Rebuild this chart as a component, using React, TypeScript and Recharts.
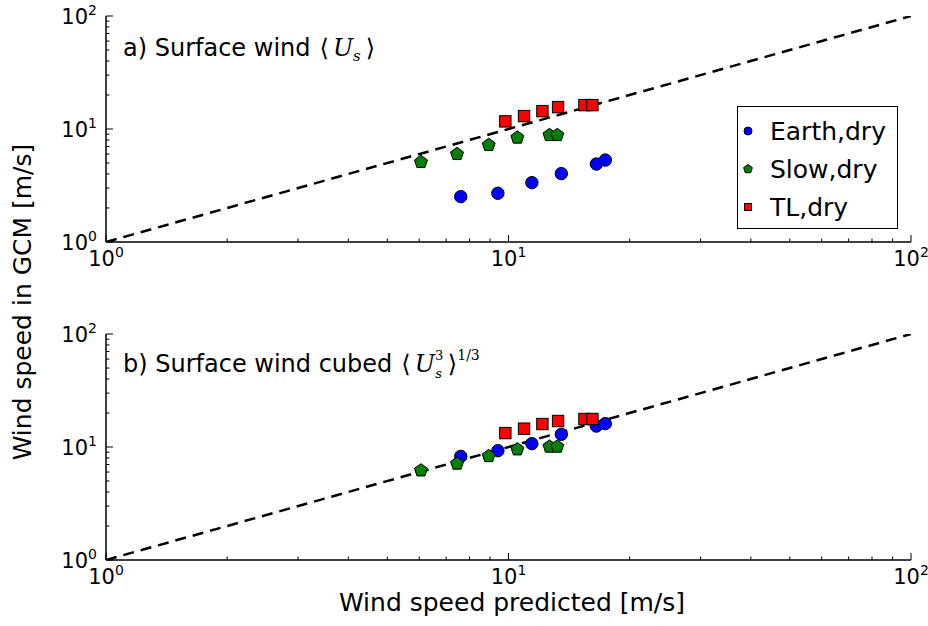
import React from 'react';
import { ScatterChart, Scatter, XAxis, YAxis, Legend } from 'recharts';

const FONT = '"DejaVu Sans", sans-serif';
const SERIF = '"DejaVu Serif", serif';

// predicted wind speed [m/s]
const predEarth = [7.61, 9.41, 11.43, 13.53, 16.53, 17.4];
const predSlow = [6.06, 7.45, 8.93, 10.52, 12.64, 13.22];
const predTL = [9.82, 10.93, 12.14, 13.28, 15.44, 16.16];

// GCM surface wind <U_s>
const surfEarth = [2.52, 2.7, 3.35, 4.03, 4.9, 5.31];
const surfSlow = [5.1, 6.0, 7.21, 8.38, 8.83, 8.83];
const surfTL = [11.68, 13.0, 14.39, 15.62, 16.27, 16.27];

// GCM surface wind cubed <U_s^3>^(1/3)
const cubedEarth = [8.26, 9.27, 10.7, 12.94, 15.32, 16.1];
const cubedSlow = [6.2, 7.11, 8.3, 9.52, 10.06, 10.06];
const cubedTL = [13.28, 14.53, 15.97, 16.98, 17.69, 17.69];

const seriesNames = ['Earth,dry', 'Slow,dry', 'TL,dry'];
const logTicks = [1, 2, 3, 4, 5, 6, 7, 8, 9, 10, 20, 30, 40, 50, 60, 70, 80, 90, 100];
const majorTicks = [1, 10, 100];
const oneToOne = [
  { x: 1, y: 1 },
  { x: 100, y: 100 },
];

const pair = (xs: number[], ys: number[]) => xs.map((x, i) => ({ x, y: ys[i] }));

const isMajor = (v: number) => majorTicks.includes(v);
const expOf = (v: number) => String(Math.round(Math.log10(v)));

const pentPoints = (cx: number, cy: number, r: number) =>
  [0, 1, 2, 3, 4]
    .map((k) => {
      const a = (-90 + k * 72) * (Math.PI / 180);
      return `${cx + r * Math.cos(a)},${cy + r * Math.sin(a)}`;
    })
    .join(' ');

const CircleMark = (p: any) => <circle cx={p.cx} cy={p.cy} r={6.2} fill="#0000ff" stroke="#000" strokeWidth={1} />;
const PentMark = (p: any) => <polygon points={pentPoints(p.cx, p.cy, 6.8)} fill="#007f00" stroke="#000" strokeWidth={1} />;
const SquareMark = (p: any) => <rect x={p.cx - 5.7} y={p.cy - 5.7} width={11.4} height={11.4} fill="#ff0000" stroke="#000" strokeWidth={1} />;
const NoMark = () => <g />;

const PowText = ({ x, y, anchor, v }: any) => (
  <text x={x} y={y} textAnchor={anchor} fontFamily={FONT} fontSize={21} fill="#000">
    10
    <tspan dy={-9} fontSize={14}>
      {expOf(v)}
    </tspan>
  </text>
);

const BottomTick = (p: any) => {
  const v = p.payload.value;
  const m = isMajor(v);
  return (
    <g>
      <line x1={p.x} x2={p.x} y1={p.y} y2={p.y - (m ? 7 : 3.5)} stroke="#000" strokeWidth={1} />
      {m && <PowText x={p.x} y={p.y + 24} anchor="middle" v={v} />}
    </g>
  );
};
const TopTick = (p: any) => {
  const m = isMajor(p.payload.value);
  return <line x1={p.x} x2={p.x} y1={p.y} y2={p.y + (m ? 7 : 3.5)} stroke="#000" strokeWidth={1} />;
};
const LeftTick = (p: any) => {
  const v = p.payload.value;
  const m = isMajor(v);
  return (
    <g>
      <line x1={p.x} x2={p.x + (m ? 7 : 3.5)} y1={p.y} y2={p.y} stroke="#000" strokeWidth={1} />
      {m && <PowText x={p.x - 9} y={p.y + 8} anchor="end" v={v} />}
    </g>
  );
};
const RightTick = (p: any) => {
  const m = isMajor(p.payload.value);
  return <line x1={p.x} x2={p.x - (m ? 7 : 3.5)} y1={p.y} y2={p.y} stroke="#000" strokeWidth={1} />;
};

const LegendBox = () => (
  <svg width={162} height={124} style={{ display: 'block' }}>
    <rect x={0.5} y={0.5} width={160} height={122} fill="#fff" stroke="#000" strokeWidth={1} />
    {seriesNames.map((name, i) => {
      const cy = 25 + i * 38;
      return (
        <g key={name}>
          {i === 0 && <circle cx={11} cy={cy} r={4} fill="#0000ff" stroke="#000" />}
          {i === 1 && <polygon points={pentPoints(11, cy, 4.6)} fill="#007f00" stroke="#000" />}
          {i === 2 && <rect x={7.5} y={cy - 3.5} width={7} height={7} fill="#ff0000" stroke="#000" />}
          <text x={33} y={cy + 9} fontFamily={FONT} fontSize={25} fill="#000">
            {name}
          </text>
        </g>
      );
    })}
  </svg>
);

const axisLine = { stroke: '#000', strokeWidth: 1.5 };

function Panel({ earth, slow, tl, legend }: any) {
  return (
    <ScatterChart width={928} height={280} margin={{ top: 16, right: 17, bottom: 8, left: 46 }}>
      <XAxis
        dataKey="x"
        type="number"
        scale="log"
        domain={[1, 100]}
        allowDataOverflow
        ticks={logTicks}
        interval={0}
        tickSize={0}
        tickMargin={0}
        tickLine={false}
        axisLine={axisLine}
        tick={BottomTick}
        height={30}
      />
      <XAxis
        xAxisId="top"
        orientation="top"
        type="number"
        scale="log"
        domain={[1, 100]}
        allowDataOverflow
        ticks={logTicks}
        interval={0}
        tickSize={0}
        tickMargin={0}
        tickLine={false}
        axisLine={axisLine}
        tick={TopTick}
        height={0}
      />
      <YAxis
        dataKey="y"
        type="number"
        scale="log"
        domain={[1, 100]}
        allowDataOverflow
        ticks={logTicks}
        interval={0}
        tickSize={0}
        tickMargin={0}
        tickLine={false}
        axisLine={axisLine}
        tick={LeftTick}
        width={60}
      />
      <YAxis
        yAxisId="right"
        orientation="right"
        type="number"
        scale="log"
        domain={[1, 100]}
        allowDataOverflow
        ticks={logTicks}
        interval={0}
        tickSize={0}
        tickMargin={0}
        tickLine={false}
        axisLine={axisLine}
        tick={RightTick}
        width={0}
      />
      <Scatter
        name="1:1"
        data={oneToOne}
        legendType="none"
        shape={NoMark}
        line={{ stroke: '#000', strokeWidth: 2.5, strokeDasharray: '11 7' }}
        isAnimationActive={false}
      />
      <Scatter name={seriesNames[0]} data={earth} fill="#0000ff" shape={CircleMark} isAnimationActive={false} />
      <Scatter name={seriesNames[1]} data={slow} fill="#007f00" shape={PentMark} isAnimationActive={false} />
      <Scatter name={seriesNames[2]} data={tl} fill="#ff0000" shape={SquareMark} isAnimationActive={false} />
      {legend && (
        <Legend
          layout="vertical"
          align="center"
          verticalAlign="middle"
          content={LegendBox}
          wrapperStyle={{ left: 737, top: 106, width: 162, height: 124 }}
        />
      )}
    </ScatterChart>
  );
}

export default function App() {
  return (
    <div style={{ position: 'absolute', left: 0, top: 0, width: 928, height: 626, background: '#fff' }}>
      <div style={{ position: 'absolute', left: 0, top: 0 }}>
        <Panel earth={pair(predEarth, surfEarth)} slow={pair(predSlow, surfSlow)} tl={pair(predTL, surfTL)} legend />
      </div>
      <div style={{ position: 'absolute', left: 0, top: 318 }}>
        <Panel earth={pair(predEarth, cubedEarth)} slow={pair(predSlow, cubedSlow)} tl={pair(predTL, cubedTL)} />
      </div>
      <svg width={928} height={626} style={{ position: 'absolute', left: 0, top: 0, pointerEvents: 'none' }}>
        <text x={123} y={56} fontFamily={FONT} fontSize={24} fill="#000">
          a) Surface wind
          <tspan dx={9} fontFamily={SERIF}>⟨</tspan>
          <tspan dx={4} fontFamily={SERIF} fontStyle="italic">U</tspan>
          <tspan dy={5} fontSize={15} fontFamily={SERIF} fontStyle="italic">s</tspan>
          <tspan dx={5} dy={-5} fontFamily={SERIF}>⟩</tspan>
        </text>
        <text x={123} y={372} fontFamily={FONT} fontSize={24} fill="#000">
          b) Surface wind cubed
          <tspan dx={9} fontFamily={SERIF}>⟨</tspan>
          <tspan dx={4} fontFamily={SERIF} fontStyle="italic">U</tspan>
          <tspan dy={-12} fontSize={13} fontFamily={SERIF}>3</tspan>
          <tspan dx={-8} dy={18} fontSize={13} fontFamily={SERIF} fontStyle="italic">s</tspan>
          <tspan dx={6} dy={-6} fontFamily={SERIF}>⟩</tspan>
          <tspan dy={-12} fontSize={14} fontFamily={SERIF}>1/3</tspan>
        </text>
        <text x={512} y={611} textAnchor="middle" fontFamily={FONT} fontSize={25} fill="#000">
          Wind speed predicted [m/s]
        </text>
        <text
          x={31}
          y={302}
          textAnchor="middle"
          fontFamily={FONT}
          fontSize={25}
          fill="#000"
          transform="rotate(-90 31 302)"
        >
          Wind speed in GCM [m/s]
        </text>
      </svg>
    </div>
  );
}
